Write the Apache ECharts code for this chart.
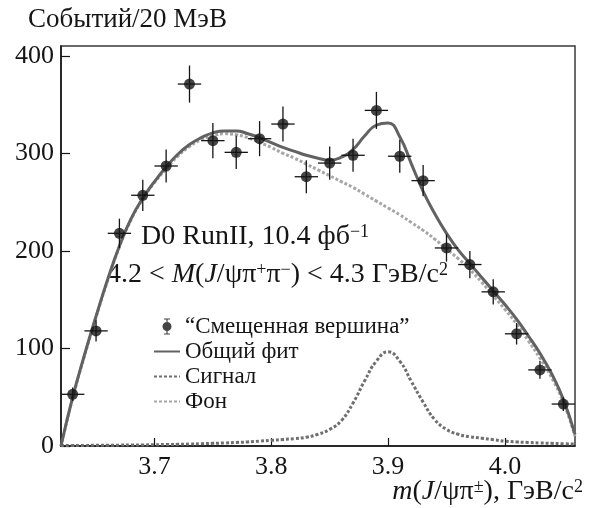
<!DOCTYPE html>
<html>
<head>
<meta charset="UTF-8">
<title>m(J/ψπ±) — D0 RunII</title>
<script src="https://cdn.jsdelivr.net/npm/echarts@6/dist/echarts.min.js"></script>
</head>
<body style="margin: 0">
<div id="main" style="width: 596px; height: 508px"></div>
<script>
// центры бинов (20 МэВ), число событий и ошибки
var binX = [3.63, 3.65, 3.67, 3.69, 3.71, 3.73, 3.75, 3.77, 3.79, 3.81, 3.83,
            3.85, 3.87, 3.89, 3.91, 3.93, 3.95, 3.97, 3.99, 4.01, 4.03, 4.05];
var events = [53, 118, 218, 257, 287, 371, 313, 301, 315, 330, 276,
              290, 298, 344, 297, 272, 203, 186, 158, 115, 78, 43];
var errors = [7, 11, 15, 16, 17, 19, 18, 17, 18, 18, 17,
              17, 17, 19, 17, 16, 14, 14, 13, 11, 9, 7];
var binHalf = 0.01;

// кривые фита
var curveX = [3.62, 3.63, 3.64, 3.65, 3.66, 3.67, 3.68, 3.69, 3.70, 3.71, 3.72,
              3.73, 3.74, 3.75, 3.76, 3.77, 3.78, 3.79, 3.80, 3.81, 3.82, 3.83,
              3.84, 3.85, 3.86, 3.87, 3.88, 3.89, 3.90, 3.91, 3.92, 3.93, 3.94,
              3.95, 3.96, 3.97, 3.98, 3.99, 4.00, 4.01, 4.02, 4.03, 4.04, 4.05, 4.06];
var totalFit = [0, 50, 93, 133, 171, 205, 233, 254, 271, 286, 299,
                309, 316, 321, 323, 323, 320, 316, 311, 306, 302, 298,
                295, 293, 296, 304, 318, 329, 331, 317, 289, 261, 238,
                218, 201, 187, 173, 159, 145, 130, 113, 95, 74, 48, 12];
var signalFit = [0.5, 0.5, 0.6, 0.7, 0.8, 0.9, 1, 1.1, 1.3, 1.5, 1.7,
                 2, 2.3, 2.7, 3.1, 3.6, 4.2, 5, 5.8, 6.7, 7.6, 9,
                 12, 17, 26, 44, 67, 87, 96.5, 87, 66, 45, 27,
                 17, 12, 9.5, 8, 6.5, 5, 4.2, 3.6, 3.1, 2.7, 2.3, 2];
var bkgFit = [0, 49, 92, 132, 170, 204, 232, 253, 270, 284, 297,
              307, 314, 318, 320, 319, 316, 311, 306, 300, 295, 289,
              283, 277, 271, 265, 258, 251, 244, 237, 229, 221, 212,
              202, 192, 181, 168, 154, 140, 125, 108, 90, 70, 45, 10];

var xTicks = [3.7, 3.8, 3.9, 4.0];
var yTicks = [0, 100, 200, 300, 400];

var serif = 'Liberation Serif';
var ink = '#151515';

var myChart = echarts.init(document.getElementById('main'));

function pairs(xs, ys) {
    return xs.map(function (x, i) { return [x, ys[i]]; });
}

// ошибки: вертикальная (стат.) и горизонтальная (ширина бина)
function renderErr(params, api) {
    var x = api.value(0), y = api.value(1), e = api.value(2);
    var t = api.coord([x, y + e]), b = api.coord([x, y - e]);
    var l = api.coord([x - binHalf, y]), r = api.coord([x + binHalf, y]);
    var st = { stroke: ink, lineWidth: 1.3 };
    return {
        type: 'group',
        children: [
            { type: 'line', shape: { x1: t[0], y1: t[1], x2: b[0], y2: b[1] }, style: st },
            { type: 'line', shape: { x1: l[0], y1: l[1], x2: r[0], y2: r[1] }, style: st }
        ]
    };
}

function supStyle(size) {
    return { fontSize: size, fontFamily: serif, verticalAlign: 'top', fill: ink };
}
function itStyle(size) {
    return { fontSize: size, fontFamily: serif, fontStyle: 'italic', fill: ink };
}
function label(x, y, text, size, align) {
    return {
        type: 'text', x: x, y: y,
        style: {
            text: text, fontSize: size, fontFamily: serif, fill: ink,
            textAlign: align, align: align, textVerticalAlign: 'middle', verticalAlign: 'middle',
            rich: { sup: supStyle(Math.round(size * 0.66)), it: itStyle(size) }
        }
    };
}

var hideDot = { opacity: 0 };

var option = {
    animation: false,
    grid: { left: 61, right: 21, top: 46, bottom: 62, show: true, borderColor: '#3a3a3a', borderWidth: 1.5 },
    xAxis: {
        type: 'value', min: 3.62, max: 4.06,
        axisLine: { lineStyle: { color: ink, width: 1.5 } },
        axisTick: { inside: true, length: 8, customValues: xTicks, lineStyle: { color: ink, width: 1.2 } },
        axisLabel: {
            customValues: xTicks, margin: 8, fontSize: 26, fontFamily: serif, color: ink,
            formatter: function (v) { return v.toFixed(1); }
        },
        splitLine: { show: false }
    },
    yAxis: {
        type: 'value', min: 0, max: 410,
        axisLine: { show: true, lineStyle: { color: ink, width: 1.5 } },
        axisTick: { show: true, inside: true, length: 9, customValues: yTicks, lineStyle: { color: ink, width: 1.2 } },
        axisLabel: { customValues: yTicks, margin: 7, fontSize: 26, fontFamily: serif, color: ink },
        splitLine: { show: false }
    },
    legend: {
        orient: 'vertical', left: 153, top: 315,
        itemWidth: 26, itemHeight: 16, itemGap: 2, padding: 0,
        textStyle: { fontFamily: serif, fontSize: 23, color: ink },
        data: [
            { name: '“Смещенная вершина”', icon: 'path://M3,0H9V1H6.6V15H9V16H3V15H5.4V1H3Z M1.5,8A4.5,4.5,0,1,1,10.5,8A4.5,4.5,0,1,1,1.5,8Z' },
            { name: 'Общий фит', itemStyle: hideDot },
            { name: 'Сигнал', itemStyle: hideDot },
            { name: 'Фон', itemStyle: hideDot }
        ]
    },
    graphic: [
        label(28, 20, 'Событий/20 МэВ', 27, 'left'),
        label(141, 237, 'D0 RunII, 10.4 фб{sup|−1}', 28, 'left'),
        label(107, 275, '4.2 < {it|M}({it|J}/ψπ{sup|+}π{sup|−}) < 4.3 ГэВ/c{sup|2}', 28, 'left'),
        label(583, 492, '{it|m}({it|J}/ψπ{sup|±}), ГэВ/c{sup|2}', 28, 'right')
    ],
    series: [
        {
            name: 'Фон', type: 'line', data: pairs(curveX, bkgFit),
            symbol: 'none', smooth: 0.5, z: 2,
            lineStyle: { color: '#a6a6a6', width: 3, type: [3, 2] },
            itemStyle: { color: '#a6a6a6' }
        },
        {
            name: 'Сигнал', type: 'line', data: pairs(curveX, signalFit),
            symbol: 'none', smooth: 0.5, z: 2,
            lineStyle: { color: '#6f6f6f', width: 3, type: [3, 2] },
            itemStyle: { color: '#6f6f6f' }
        },
        {
            name: 'Общий фит', type: 'line', data: pairs(curveX, totalFit),
            symbol: 'none', smooth: 0.5, z: 3,
            lineStyle: { color: '#626262', width: 3 },
            itemStyle: { color: '#626262' }
        },
        {
            type: 'custom', renderItem: renderErr, z: 4,
            data: binX.map(function (x, i) { return [x, events[i], errors[i]]; }),
            encode: { x: 0, y: 1 }
        },
        {
            name: '“Смещенная вершина”', type: 'scatter', z: 5,
            data: pairs(binX, events), symbolSize: 11,
            itemStyle: { color: ink }
        }
    ]
};

myChart.setOption(option);
</script>
</body>
</html>
